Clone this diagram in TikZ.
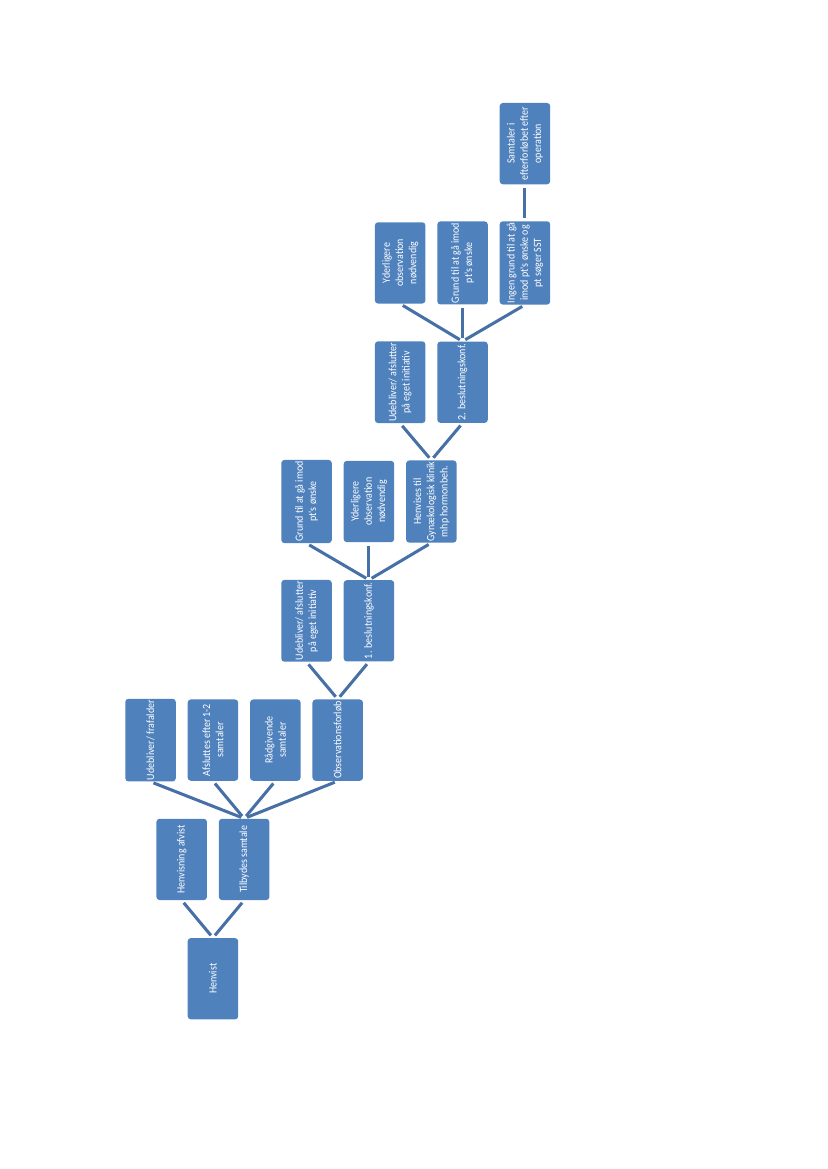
\documentclass[tikz,border=0pt]{standalone}
\usepackage{fontspec}
\newfontfamily\boxfont{Carlito}[FakeStretch=0.9]
\usetikzlibrary{arrows,shapes}
\definecolor{boxblue}{HTML}{4F81BD}
\definecolor{lineblue}{HTML}{4670A6}
\tikzstyle{stepbox}=[rectangle,rounded corners=0.8mm,fill=boxblue,text=white,minimum width=20.65mm,minimum height=12.83mm,inner sep=1pt,align=center,rotate=90]
\tikzstyle{edge} = [draw,line width=2.2pt,lineblue,shorten <=0.8mm,shorten >=0.8mm]
\tikzstyle{label} = [font=\boxfont\fontsize{8}{9.6}\selectfont]

\begin{document}
\begin{tikzpicture}[x=7.925mm, y=30.3mm]

    \useasboundingbox (-4.824,-1.595) rectangle (21.683,8.204);

     \foreach \x/\y/\name/\txt in {2/0/hv/{Henvist},
                                   1/1/afv/{Henvisning afvist}, 3/1/tilb/{Tilbydes samtale},
                                   0/2/udeb/{Udebliver/ frafalder}, 2/2/afsl/{Afsluttes efter 1-2\\samtaler},
                                   4/2/raad/{Rådgivende\\samtaler}, 6/2/obs/{Observationsforløb}}
        \node[stepbox, label] (\name) at (\x,\y) {\txt};

     \foreach \x/\y/\name/\txt in {5/3/udebA/{Udebliver/ afslutter\\på eget initiativ}, 7/3/konfA/{1. beslutningskonf.},
                                   5/4/grundA/{Grund til at gå imod\\pt's ønske}, 7/4/yderA/{Yderligere\\observation\\nødvendig},
                                   9/4/henv/{Henvises til\\Gynækologisk klinik\\mhp hormonbeh.}}
        \node[stepbox, label] (\name) at (\x,\y) {\txt};

     \foreach \x/\y/\name/\txt in {8/5/udebB/{Udebliver/ afslutter\\på eget initiativ}, 10/5/konfB/{2. beslutningskonf.},
                                   8/6/yderB/{Yderligere\\observation\\nødvendig}, 10/6/grundB/{Grund til at gå imod\\pt's ønske},
                                   12/6/ingen/{Ingen grund til at gå\\imod pt's ønske og\\pt søger SST},
                                   12/7/samt/{Samtaler i\\efterforløbet efter\\operation}}
        \node[stepbox, label] (\name) at (\x,\y) {\txt};

    % boxes are turned, so east is the top side and west the bottom side
    \foreach \source/ \dest in {hv/afv, hv/tilb, tilb/udeb, tilb/afsl, tilb/raad, tilb/obs, obs/udebA, obs/konfA,
                                konfA/grundA, konfA/yderA, konfA/henv, henv/udebB, henv/konfB,
                                konfB/yderB, konfB/grundB, konfB/ingen, ingen/samt}
        \path[edge] (\source.east) -- (\dest.west);

\end{tikzpicture}
\end{document}
